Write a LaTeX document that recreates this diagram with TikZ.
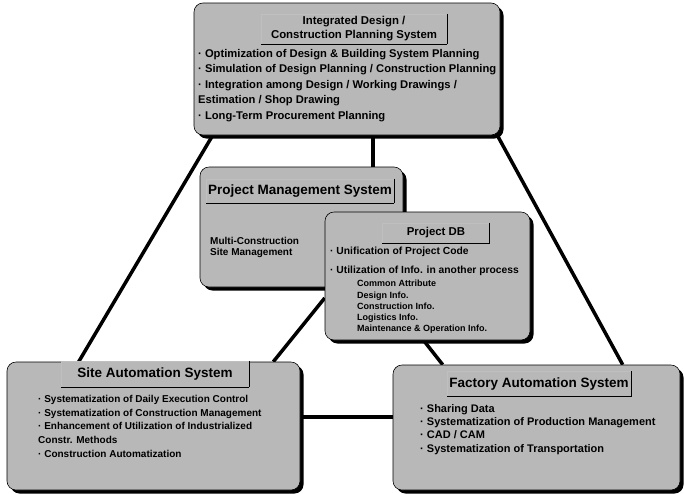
\documentclass[tikz,border=0pt]{standalone}
\usepackage{fontspec}
\setmainfont{Liberation Sans}
\usetikzlibrary{shadows,backgrounds}
\tikzset{
  sysbox/.style={draw=black, line width=0.6pt, fill=black!28, rounded corners=9pt,
    drop shadow={shadow xshift=3.5pt, shadow yshift=-3.5pt, fill=black, opacity=1}},
  ttl/.style={fill=black!28, draw=white!75!black, line width=0.5pt, inner sep=1pt, align=center,
    font=\bfseries\fontsize{13.5}{14}\selectfont,
    append after command={(\tikzlastnode.north east) edge[black, line width=1.3pt] (\tikzlastnode.south east)
      (\tikzlastnode.south east) edge[black, line width=1.3pt] (\tikzlastnode.south west)}},
  body/.style={anchor=north west, align=left, inner sep=0pt, font=\bfseries\fontsize{10}{13.7}\selectfont},
  link/.style={line width=3.5pt, black}
}
\begin{document}
\begin{tikzpicture}[x=1pt, y=-1pt]
\useasboundingbox (0,0) rectangle (684,493);

% boxes
\node[sysbox, minimum width=306pt, minimum height=132pt] (ic) at (347,69) {};
\node[sysbox, minimum width=203pt, minimum height=120pt] (pm) at (301.5,227) {};
\node[sysbox, minimum width=205pt, minimum height=128pt] (db) at (427.5,276) {};
\node[sysbox, minimum width=293pt, minimum height=128pt] (site) at (153.5,426) {};
\node[sysbox, minimum width=287pt, minimum height=125pt] (fa) at (536.5,427.5) {};

% links
\begin{scope}[on background layer]
\fill[white] (0,0) rectangle (684,493);
\draw[link] ([xshift=19pt]ic.south west) -- ([xshift=72pt]site.north west);
\draw[link] ([xshift=-3pt]ic.south east) -- ([xshift=230pt]fa.north west);
\draw[link] ([xshift=26pt]ic.south) -- ([xshift=26pt]ic.south |- pm.north);
\draw[link] ([yshift=-22pt]db.west) -- ([xshift=-27pt]site.north east);
\draw[link] ([xshift=-4pt]db.south) -- ([xshift=50pt]fa.north west);
\draw[link] ([yshift=9pt]site.east) -- ([yshift=9pt]site.east -| fa.west);
\end{scope}

% titles
\node[ttl, minimum width=186pt, minimum height=30pt, font=\bfseries\fontsize{11.4}{14}\selectfont] (icT) at (354,29) {Integrated Design /\\Construction Planning System};
\node[ttl, minimum width=188pt, minimum height=24pt] (pmT) at (300,191) {Project Management System};
\node[ttl, minimum width=107pt, minimum height=20pt, font=\bfseries\fontsize{11.4}{12}\selectfont] (dbT) at (436,233) {Project DB};
\node[ttl, minimum width=188pt, minimum height=26pt] (siteT) at (155,374) {Site Automation System};
\node[ttl, minimum width=184pt, minimum height=25pt] (faT) at (539,384) {Factory Automation System};

% texts
\node[body, font=\bfseries\fontsize{11.2}{15.5}\selectfont] (icB) at (198,49) {%
· Optimization of Design \& Building System Planning\\
· Simulation of Design Planning / Construction Planning\\
· Integration among Design / Working Drawings /\\
Estimation / Shop Drawing\\
· Long-Term Procurement Planning};
\node[body, font=\bfseries\fontsize{10}{11.5}\selectfont] (pmB) at (210,237) {Multi-Construction\\Site Management};
\node[body, font=\bfseries\fontsize{10.3}{19}\selectfont] (dbB) at (330,247) {%
· Unification of Project Code\\
· Utilization of Info. in another process};
\node[body, font=\bfseries\fontsize{9}{11.3}\selectfont] (dbS) at (357,280) {%
Common Attribute\\
Design Info.\\
Construction Info.\\
Logistics Info.\\
Maintenance \& Operation Info.};
\node[body] (siteB) at (38,395) {%
· Systematization of Daily Execution Control\\
· Systematization of Construction Management\\
· Enhancement of Utilization of Industrialized\\
Constr. Methods\\
· Construction Automatization};
\node[body, font=\bfseries\fontsize{11}{13.4}\selectfont] (faB) at (420,404) {%
· Sharing Data\\
· Systematization of Production Management\\
· CAD / CAM\\
· Systematization of Transportation};
\end{tikzpicture}
\end{document}
